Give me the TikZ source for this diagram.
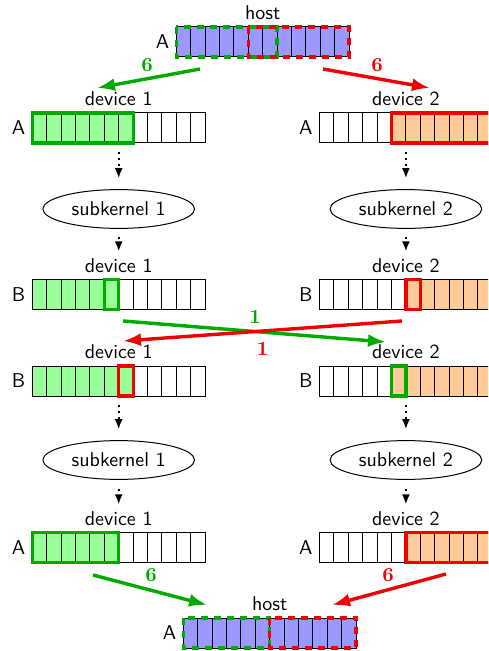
\documentclass[tikz,border=0pt]{standalone}
\usetikzlibrary{arrows.meta,shapes.geometric,calc}
\definecolor{gline}{RGB}{0,170,0}
\definecolor{rline}{RGB}{240,0,0}
\definecolor{gfill}{RGB}{153,255,153}
\definecolor{ofill}{RGB}{255,204,153}
\definecolor{bfill}{RGB}{153,153,255}
\tikzset{
  arrnode/.style={minimum width=86.4pt, minimum height=15pt, inner sep=0pt, outer sep=0pt, anchor=north west},
  lab/.style={font=\sffamily},
  cellbox/.style={draw=black, line width=0.5pt},
  gbox/.style={draw=gline, line width=1.6pt},
  rbox/.style={draw=rline, line width=1.6pt},
  gdash/.style={draw=gline, line width=1.7pt, dash pattern=on 3.5pt off 3pt},
  rdash/.style={draw=rline, line width=1.7pt, dash pattern=on 3.5pt off 3pt},
  kern/.style={draw, ellipse, font=\sffamily, line width=0.5pt},
  dotarrow/.style={line width=0.8pt, dash pattern=on 0.9pt off 2.1pt, -{Latex[length=5pt,width=4pt]}},
  garrow/.style={draw=gline, line width=1.7pt, -{Latex[length=9pt,width=6.5pt]}},
  rarrow/.style={draw=rline, line width=1.7pt, -{Latex[length=9pt,width=6.5pt]}},
  gnum/.style={text=gline, font=\bfseries},
  rnum/.style={text=rline, font=\bfseries},
}
\newcommand\cellrow[4]{%
  \foreach \i in {#3,...,#4}{\fill[#2] ($(#1.north west)+({\i*14.4},0)$) rectangle +(14.4,30);}
  \foreach \i in {0,...,11}{\draw[cellbox] ($(#1.north west)+({\i*14.4},0)$) rectangle +(14.4,30);}
}
\newcommand\hilite[4]{\draw[#2] ($(#1.north west)+({#3*14.4},0)$) rectangle +({#4*14.4},30);}
\begin{document}
\begin{tikzpicture}[x=0.5pt,y=-0.5pt]
\useasboundingbox (0,0) rectangle (488,651);
\clip (0,0) rectangle (488,651);

% top host
\node[arrnode, label={[lab]above:host}, label={[lab]left:A}] (h1) at (176.3,27) {};
\cellrow{h1}{bfill}{0}{11}
\hilite{h1}{gdash}{0}{7}
\hilite{h1}{rdash}{5}{7}

% row A (before)
\node[arrnode, label={[lab,name=l1a]above:device 1}, label={[lab]left:A}] (d1a) at (32.3,113) {};
\cellrow{d1a}{gfill}{0}{6}
\hilite{d1a}{gbox}{0}{7}
\node[arrnode, label={[lab,name=l2a]above:device 2}, label={[lab]left:A}] (d2a) at (319.5,113) {};
\cellrow{d2a}{ofill}{5}{11}
\hilite{d2a}{rbox}{5}{7}

\coordinate (tg0) at (200,69);
\coordinate (tg1) at (97,88);
\coordinate (tr0) at (323,69);
\coordinate (tr1) at (430,88);
\draw[garrow] (tg0) -- (tg1);
\draw[rarrow] (tr0) -- (tr1);
\node[gnum] (n1) at (147,65) {6};
\node[rnum] (n2) at (377,65) {6};

% kernels 1
\node[kern] (k1) at (118.7,209) {subkernel 1};
\node[kern] (k2) at (405.9,209) {subkernel 2};
\draw[dotarrow, shorten <=4.5pt, shorten >=5.5pt] (d1a.south) -- (k1.north);
\draw[dotarrow, shorten <=4.5pt, shorten >=5.5pt] (d2a.south) -- (k2.north);

% row B (before)
\node[arrnode, label={[lab,name=l1b]above:device 1}, label={[lab]left:B}] (d1b) at (32.3,279.5) {};
\cellrow{d1b}{gfill}{0}{5}
\hilite{d1b}{gbox}{5}{1}
\node[arrnode, label={[lab,name=l2b]above:device 2}, label={[lab]left:B}] (d2b) at (319.5,279.5) {};
\cellrow{d2b}{ofill}{6}{11}
\hilite{d2b}{rbox}{6}{1}
\draw[dotarrow, shorten <=4pt] (k1.south) -- (l1b.north);
\draw[dotarrow, shorten <=4pt] (k2.south) -- (l2b.north);

% exchange
\coordinate (xg0) at (123,321);
\coordinate (xg1) at (386,342);
\coordinate (xr0) at (402,321);
\coordinate (xr1) at (123,341);
\draw[garrow] (xg0) -- (xg1);
\draw[rarrow] (xr0) -- (xr1);
\node[gnum] (n3) at (255,316.5) {1};
\node[rnum] (n4) at (262.5,348.5) {1};

% row B (after)
\node[arrnode, label={[lab,name=l1c]above:device 1}, label={[lab]left:B}] (d1c) at (32.3,366) {};
\cellrow{d1c}{gfill}{0}{6}
\hilite{d1c}{rbox}{6}{1}
\node[arrnode, label={[lab,name=l2c]above:device 2}, label={[lab]left:B}] (d2c) at (319.5,366) {};
\cellrow{d2c}{ofill}{5}{11}
\hilite{d2c}{gbox}{5}{1}

% kernels 2
\node[kern] (k3) at (118.7,460) {subkernel 1};
\node[kern] (k4) at (405.9,460) {subkernel 2};
\draw[dotarrow, shorten <=4.5pt, shorten >=5.5pt] (d1c.south) -- (k3.north);
\draw[dotarrow, shorten <=4.5pt, shorten >=5.5pt] (d2c.south) -- (k4.north);

% row A (after)
\node[arrnode, label={[lab,name=l1d]above:device 1}, label={[lab]left:A}] (d1d) at (32.3,532.5) {};
\cellrow{d1d}{gfill}{0}{5}
\hilite{d1d}{gbox}{0}{6}
\node[arrnode, label={[lab,name=l2d]above:device 2}, label={[lab]left:A}] (d2d) at (319.5,532.5) {};
\cellrow{d2d}{ofill}{6}{11}
\hilite{d2d}{rbox}{6}{6}
\draw[dotarrow, shorten <=4.5pt] (k3.south) -- (l1d.north);
\draw[dotarrow, shorten <=4.5pt] (k4.south) -- (l2d.north);

% bottom host
\node[arrnode, label={[lab,name=lh2]above:host}, label={[lab]left:A}] (h2) at (183.3,618) {};
\cellrow{h2}{bfill}{0}{11}
\hilite{h2}{gdash}{0}{6}
\hilite{h2}{rdash}{6}{6}

\coordinate (bg0) at (93,575);
\coordinate (bg1) at (207,605);
\coordinate (br0) at (446,574);
\coordinate (br1) at (332,605);
\draw[garrow] (bg0) -- (bg1);
\draw[rarrow] (br0) -- (br1);
\node[gnum] (n5) at (151,575) {6};
\node[rnum] (n6) at (388,575) {6};
\end{tikzpicture}
\end{document}
